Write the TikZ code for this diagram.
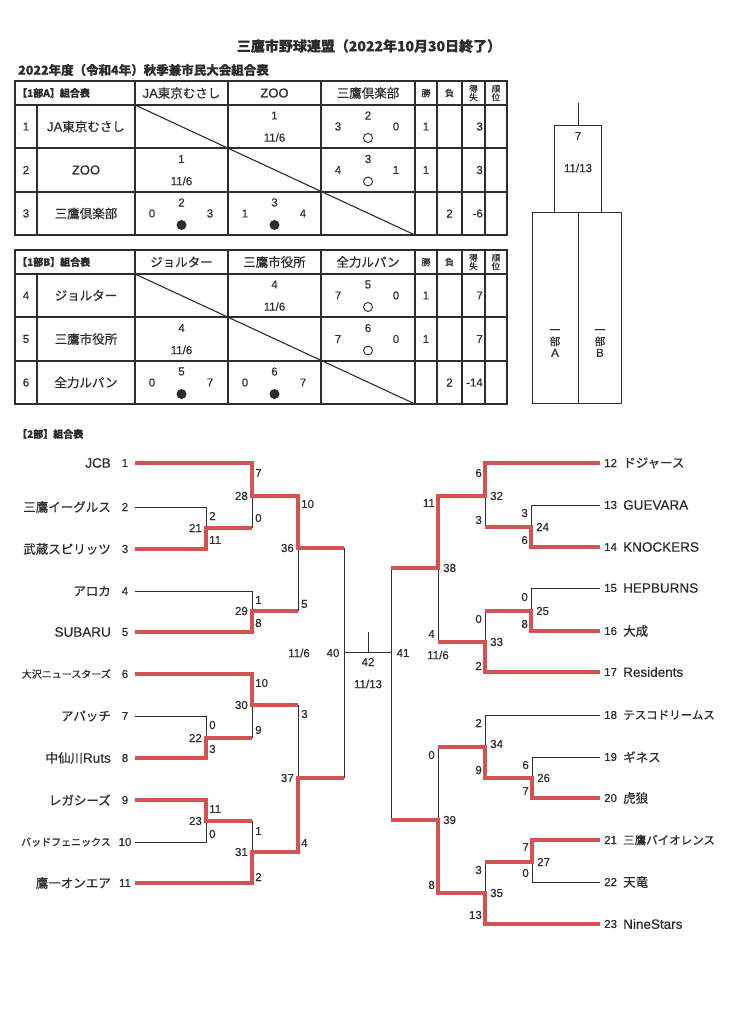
\documentclass[tikz,border=0pt]{standalone}
\usepackage{fontspec}
\setmainfont{Noto Sans CJK JP}[FakeBold=0.6]
\newfontfamily\lat{Liberation Sans}[FakeBold=0.5]
\definecolor{redline}{RGB}{212,82,82}
\definecolor{ink}{RGB}{45,45,45}
\newcommand{\fs}[1]{\fontsize{#1}{#1}\selectfont}
\begin{document}
\begin{tikzpicture}[x=1pt,y=-1pt,
  every node/.style={text=ink, inner sep=0pt},
  gridline/.style={draw=ink, line width=1.1pt},
  loseline/.style={draw=ink, line width=0.9pt},
  winline/.style={draw=redline, line width=3.2pt, line join=miter},
  tname/.style={font=\fs{12.5}},
  lname/.style={font=\fs{13.5}\lat},
  sname/.style={font=\fs{10}},
  mname/.style={font=\fs{11.5}},
  tnum/.style={font=\fs{11.5}\lat},
  num/.style={font=\fs{11.5}\lat},
  cnum/.style={font=\fs{11.5}\lat},
  hdr/.style={font=\fs{12.5}},
  tiny/.style={font=\fs{9}, align=center},
  ocirc/.style={circle, draw=ink, line width=0.9pt, minimum size=9pt},
  fcirc/.style={circle, fill=ink, minimum size=10pt}]
\fill[white] (0,0) rectangle (735,1024);
\useasboundingbox (0,0) rectangle (735,1024);

% titles
\node[font=\fs{14}\bfseries] (title) at (369,46) {三鷹市野球連盟（2022年10月30日終了）};
\node[font=\fs{12.5}\bfseries, anchor=west] (subtitle) at (18,70) {2022年度（令和4年）秋季兼市民大会組合表};

% ---------- tables ----------
\foreach \T in {81,250}{
  \draw[gridline] (15,\T) rectangle (507,\T+154);
  \foreach \dy in {24,67,111}{ \draw[gridline] (15,\T+\dy) -- (507,\T+\dy); }
  \draw[gridline] (37,\T+24) -- (37,\T+154);
  \foreach \cx in {135,228,321,415,437,462,485}{ \draw[gridline] (\cx,\T) -- (\cx,\T+154); }
  \draw[gridline] (135,\T+24) -- (415,\T+154);
  \node[tiny] at (426,\T+12) {勝};
  \node[tiny] at (449.5,\T+12) {負};
  \node[tiny, font=\fs{8.5}, align=center] at (473.5,\T+12) {得\\[0pt]失};
  \node[tiny, font=\fs{8.5}, align=center] at (496,\T+12) {順\\[0pt]位};
}
% table A header
\node[font=\fs{10}\bfseries, anchor=west] (ha) at (17,93) {【1部A】組合表};
\node[hdr] (ha1) at (181.5,93) {{\lat\fs{13}JA}東京むさし};
\node[hdr, font=\fs{13}\lat] (ha2) at (274.5,93) {ZOO};
\node[hdr] (ha3) at (368,93) {三鷹倶楽部};
% table A rows
\node[cnum] (ra1) at (26,126.5) {1};
\node[hdr] (na1) at (86,126.5) {{\lat\fs{13}JA}東京むさし};
\node[cnum] (ra2) at (26,170) {2};
\node[hdr, font=\fs{13}\lat] (na2) at (86,170) {ZOO};
\node[cnum] (ra3) at (26,213.5) {3};
\node[hdr] (na3) at (86,213.5) {三鷹倶楽部};
% row 1
\node[cnum] (a12t) at (274.5,115.5) {1};
\node[cnum] (a12d) at (274.5,137.5) {11/6};
\node[cnum] (a13l) at (338,126.5) {3};
\node[cnum] (a13t) at (368,115.5) {2};
\node[cnum] (a13r) at (396,126.5) {0};
\node[ocirc] (a13c) at (368,138) {};
\node[cnum] (a1w) at (426,126.5) {1};
\node[cnum, anchor=east] (a1d) at (483,126.5) {3};
% row 2
\node[cnum] (a21t) at (181.5,159) {1};
\node[cnum] (a21d) at (181.5,181) {11/6};
\node[cnum] (a23l) at (338,170) {4};
\node[cnum] (a23t) at (368,159) {3};
\node[cnum] (a23r) at (396,170) {1};
\node[ocirc] (a23c) at (368,181.5) {};
\node[cnum] (a2w) at (426,170) {1};
\node[cnum, anchor=east] (a2d) at (483,170) {3};
% row 3
\node[cnum] (a31l) at (152,213.5) {0};
\node[cnum] (a31t) at (181.5,202.5) {2};
\node[cnum] (a31r) at (210,213.5) {3};
\node[fcirc] (a31c) at (181.5,225) {};
\node[cnum] (a32l) at (245,213.5) {1};
\node[cnum] (a32t) at (274.5,202.5) {3};
\node[cnum] (a32r) at (303,213.5) {4};
\node[fcirc] (a32c) at (274.5,225) {};
\node[cnum] (a3l) at (449.5,213.5) {2};
\node[cnum, anchor=east] (a3d) at (483,213.5) {-6};

% table B header
\node[font=\fs{10}\bfseries, anchor=west] (hb) at (17,262) {【1部B】組合表};
\node[hdr] (hb1) at (181.5,262) {ジョルター};
\node[hdr] (hb2) at (274.5,262) {三鷹市役所};
\node[hdr] (hb3) at (368,262) {全力ルパン};
\node[cnum] (rb4) at (26,295.5) {4};
\node[hdr] (nb4) at (86,295.5) {ジョルター};
\node[cnum] (rb5) at (26,339) {5};
\node[hdr] (nb5) at (86,339) {三鷹市役所};
\node[cnum] (rb6) at (26,382.5) {6};
\node[hdr] (nb6) at (86,382.5) {全力ルパン};
% row 4
\node[cnum] (b12t) at (274.5,284.5) {4};
\node[cnum] (b12d) at (274.5,306.5) {11/6};
\node[cnum] (b13l) at (338,295.5) {7};
\node[cnum] (b13t) at (368,284.5) {5};
\node[cnum] (b13r) at (396,295.5) {0};
\node[ocirc] (b13c) at (368,307) {};
\node[cnum] (b1w) at (426,295.5) {1};
\node[cnum, anchor=east] (b1d) at (483,295.5) {7};
% row 5
\node[cnum] (b21t) at (181.5,328) {4};
\node[cnum] (b21d) at (181.5,350) {11/6};
\node[cnum] (b23l) at (338,339) {7};
\node[cnum] (b23t) at (368,328) {6};
\node[cnum] (b23r) at (396,339) {0};
\node[ocirc] (b23c) at (368,350.5) {};
\node[cnum] (b2w) at (426,339) {1};
\node[cnum, anchor=east] (b2d) at (483,339) {7};
% row 6
\node[cnum] (b31l) at (152,382.5) {0};
\node[cnum] (b31t) at (181.5,371.5) {5};
\node[cnum] (b31r) at (210,382.5) {7};
\node[fcirc] (b31c) at (181.5,394) {};
\node[cnum] (b32l) at (245,382.5) {0};
\node[cnum] (b32t) at (274.5,371.5) {6};
\node[cnum] (b32r) at (303,382.5) {7};
\node[fcirc] (b32c) at (274.5,394) {};
\node[cnum] (b3l) at (449.5,382.5) {2};
\node[cnum, anchor=east] (b3d) at (483,382.5) {-14};

% ---------- 1部 final box ----------
\coordinate (fbtop) at (578,103);
\coordinate (fbjoin) at (578,125);
\draw[gridline, line width=0.9pt] (fbtop) -- (fbjoin);
\draw[gridline, line width=0.9pt] (554,125) rectangle (601,212);
\draw[gridline, line width=0.9pt] (532,212) rectangle (621,403);
\draw[gridline, line width=0.9pt] (578,212) -- (578,403);
\node[cnum] (fb7) at (578,136) {7};
\node[cnum] (fbd) at (578,168) {11/13};
\node[font=\fs{10.5}, align=center] (fbA) at (555,343) {一\\[1pt]部\\[1pt]{\lat\fs{11.5}A}};
\node[font=\fs{10.5}, align=center] (fbB) at (600,343) {一\\[1pt]部\\[1pt]{\lat\fs{11.5}B}};

% ---------- 2部 ----------
\node[font=\fs{10}\bfseries, anchor=west] (h2) at (17,434) {【2部】組合表};

% left team labels
\foreach \n/\y/\nm/\st in {1/463/JCB/lname, 2/507/三鷹イーグルス/tname, 3/549/武蔵スピリッツ/tname,
  4/591/アロカ/tname, 5/632/SUBARU/lname, 6/674/大沢ニュースターズ/sname, 7/716/アパッチ/tname,
  8/758/{中仙川{\lat\fs{13.5}Ruts}}/tname, 9/800/レガシーズ/tname, 10/842/バッドフェニックス/sname, 11/883/鷹一オンエア/tname}{
  \node[\st, anchor=east] (tn\n) at (111,\y) {\nm};
  \node[tnum] (tk\n) at (125,\y) {\n};
  \coordinate (L\n) at (135,\y);
}
% right team labels
\foreach \n/\y/\nm/\st in {12/463/ドジャース/tname, 13/505/GUEVARA/lname, 14/547/KNOCKERS/lname,
  15/588/HEPBURNS/lname, 16/631/大成/tname, 17/672/Residents/lname, 18/715/テスコドリームス/mname,
  19/757/ギネス/tname, 20/798/虎狼/tname, 21/840/三鷹バイオレンス/mname, 22/882/天竜/tname, 23/924/NineStars/lname}{
  \node[tnum, anchor=west] (tk\n) at (604,\y) {\n};
  \node[\st, anchor=west] (tn\n) at (623,\y) {\nm};
  \coordinate (R\n) at (600,\y);
}

% losing (black) segments, left
\draw[loseline] (L2) -- (206,507) -- (206,528);
\draw[loseline] (252,528) -- (252,496);
\draw[loseline] (L4) -- (252,591) -- (252,611);
\draw[loseline] (298,548) -- (298,611);
\draw[loseline] (L7) -- (206,716) -- (206,738);
\draw[loseline] (252,705) -- (252,738);
\draw[loseline] (L10) -- (206,842) -- (206,821);
\draw[loseline] (252,821) -- (252,852);
\draw[loseline] (298,705) -- (298,778);
% final
\coordinate (f40) at (344,652);
\coordinate (f41) at (391,652);
\coordinate (f42) at (368,652);
\coordinate (f42t) at (368,632);
\draw[loseline] (344,548) -- (344,778);
\draw[loseline] (f40) -- (f41);
\draw[loseline] (f42) -- (f42t);
\draw[loseline] (391,568) -- (391,820);
% losing segments, right
\draw[loseline] (R13) -- (531,505) -- (531,527);
\draw[loseline] (485,496) -- (485,527);
\draw[loseline] (R15) -- (531,588) -- (531,611);
\draw[loseline] (485,611) -- (485,642);
\draw[loseline] (438,568) -- (438,642);
\draw[loseline] (R18) -- (485,715) -- (485,747);
\draw[loseline] (R19) -- (532,757) -- (532,778);
\draw[loseline] (R22) -- (532,882) -- (532,862);
\draw[loseline] (485,862) -- (485,893);
\draw[loseline] (438,747) -- (438,820);

% winning (red) paths, left
\draw[winline] (L1) -- (252,463) -- (252,496) -- (298,496) -- (298,548) -- (344,548);
\draw[winline] (L3) -- (206,549) -- (206,528) -- (252,528);
\draw[winline] (L5) -- (252,632) -- (252,611) -- (298,611);
\draw[winline] (L6) -- (252,674) -- (252,705) -- (298,705);
\draw[winline] (L8) -- (206,758) -- (206,738) -- (252,738);
\draw[winline] (L9) -- (206,800) -- (206,821) -- (252,821);
\draw[winline] (L11) -- (252,883) -- (252,852) -- (298,852) -- (298,778) -- (344,778);
% winning paths, right
\draw[winline] (R12) -- (485,463) -- (485,496) -- (438,496) -- (438,568) -- (391,568);
\draw[winline] (R14) -- (531,547) -- (531,527) -- (485,527);
\draw[winline] (R16) -- (531,631) -- (531,611) -- (485,611);
\draw[winline] (R17) -- (485,672) -- (485,642) -- (438,642);
\draw[winline] (R20) -- (532,798) -- (532,778) -- (485,778) -- (485,747) -- (438,747);
\draw[winline] (R21) -- (532,840) -- (532,862) -- (485,862);
\draw[winline] (R23) -- (485,924) -- (485,893) -- (438,893) -- (438,820) -- (391,820);

% scores left (label right of vertical), match numbers left of vertical
\foreach \x/\y/\s/\k in {206/516/2/a, 206/540/11/b, 252/473/7/c, 252/518/0/d, 252/600/1/e, 252/623/8/f,
  298/504/10/g, 298/604/5/h, 206/725/0/i, 206/749/3/j, 252/683/10/k, 252/730/9/l,
  206/809/11/m, 206/834/0/n, 252/831/1/o, 252/877/2/p, 298/714/3/q, 298/843/4/r}{
  \node[num, anchor=west] (sl\k) at (\x+3,\y) {\s};
}
\foreach \x/\y/\s in {206/528/21, 252/496/28, 252/611/29, 298/548/36, 206/738/22, 252/705/30,
  206/821/23, 252/852/31, 298/778/37}{
  \node[num, anchor=east] (ml\s) at (\x-4,\y) {\s};
}
% scores right
\foreach \x/\y/\s/\k in {531/513/3/a, 531/540/6/b, 485/473/6/c, 485/520/3/d, 531/597/0/e, 531/624/8/f,
  485/619/0/g, 485/666/2/h, 438/503/11/i, 438/634/4/j, 532/765/6/k, 532/791/7/l,
  485/723/2/m, 485/770/9/n, 532/847/7/o, 532/873/0/p, 485/870/3/q, 485/915/13/r,
  438/755/0/s, 438/885/8/t}{
  \node[num, anchor=east] (sr\k) at (\x-3,\y) {\s};
}
\foreach \x/\y/\s in {531/527/24, 485/496/32, 531/611/25, 485/642/33, 438/568/38, 532/778/26,
  485/744/34, 532/862/27, 485/893/35, 438/820/39}{
  \node[num, anchor=west] (mr\s) at (\x+5,\y) {\s};
}
% final labels
\node[num] (d40) at (299,653) {11/6};
\node[num] (m40) at (333,653) {40};
\node[num] (m42) at (368,662) {42};
\node[num] (d42) at (368,684) {11/13};
\node[num] (m41) at (403,653) {41};
\node[num] (d41) at (438,655) {11/6};
\end{tikzpicture}
\end{document}
